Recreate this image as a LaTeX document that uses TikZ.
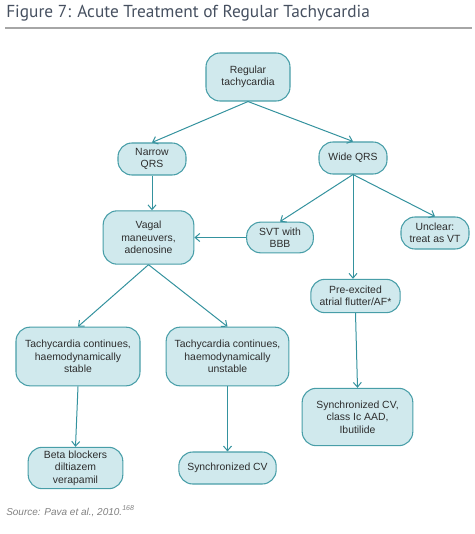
\documentclass[tikz,border=0pt]{standalone}
\usepackage{fontspec}
\setmainfont{Liberation Sans}
\newfontfamily\titlefont{PT Sans}
\usetikzlibrary{arrows.meta}
\definecolor{boxfill}{RGB}{208,233,237}
\definecolor{boxline}{RGB}{72,158,168}
\definecolor{arrline}{RGB}{52,146,158}
\definecolor{titlegray}{RGB}{70,80,96}
\definecolor{txtgray}{RGB}{45,45,45}
\tikzset{
  box/.style={draw=boxline, fill=boxfill, line width=0.8pt, rounded corners=10.5pt,
    align=center, font=\fontsize{7.8}{9.4}\selectfont, text=txtgray, inner sep=1pt},
  arr/.style={draw=arrline, line width=0.75pt, -{Straight Barb[length=3.5pt,width=6pt]}}
}
\begin{document}
\begin{tikzpicture}[x=0.75pt,y=-0.75pt]
    \useasboundingbox (0,0) rectangle (474,534);
    % heading
    \node[anchor=base west, inner sep=0, text=titlegray, font=\titlefont\fontsize{13}{15}\selectfont] (title) at (6,18) {Figure 7: Acute Treatment of Regular Tachycardia};
    \draw[gray!70, line width=0.8pt] (5,28) -- (472,28);
    % boxes
    \node[box, minimum width=63pt, minimum height=36pt] (reg) at (248,77) {Regular\\tachycardia};
    \node[box, minimum width=51pt, minimum height=24pt] (narrow) at (152,159) {Narrow\\QRS};
    \node[box, minimum width=51pt, minimum height=24pt] (wide) at (353,158) {Wide QRS};
    \node[box, minimum width=68pt, minimum height=40pt] (vagal) at (148.5,237.5) {Vagal\\maneuvers,\\adenosine};
    \node[box, minimum width=50pt, minimum height=23pt] (svt) at (280,237.5) {SVT with\\BBB};
    \node[box, minimum width=51pt, minimum height=24pt] (unclear) at (435,233) {Unclear:\\treat as VT};
    \node[box, minimum width=67pt, minimum height=25pt] (pre) at (355.5,296) {Pre-excited\\atrial flutter/AF*};
    \node[box, minimum width=93pt, minimum height=44pt] (stable) at (78,356.5) {Tachycardia continues,\\haemodynamically\\stable};
    \node[box, minimum width=92pt, minimum height=44pt] (unstable) at (227.5,356.5) {Tachycardia continues,\\haemodynamically\\unstable};
    \node[box, minimum width=83pt, minimum height=43pt] (cvaad) at (357.5,417) {Synchronized CV,\\class Ic AAD,\\Ibutilide};
    \node[box, minimum width=71pt, minimum height=31pt] (beta) at (75.5,468) {Beta blockers\\diltiazem\\verapamil};
    \node[box, minimum width=73pt, minimum height=24pt] (synccv) at (227.5,468) {Synchronized CV};
    % connectors
    \draw[arr] (reg.south) -- (narrow.north);
    \draw[arr] (reg.south) -- (wide.north);
    \draw[arr] (narrow.south) -- (narrow.south |- vagal.north);
    \draw[arr] (wide.south) -- (svt.north);
    \draw[arr] (wide.south) -- (unclear.north);
    \draw[arr] (wide.south) -- (wide.south |- pre.north);
    \draw[arr] (svt.west) -- (vagal.east);
    \draw[arr] (vagal.south) -- (stable.north);
    \draw[arr] (vagal.south) -- (unstable.north);
    \draw[arr] (stable.south) -- (beta.north);
    \draw[arr] (unstable.south) -- (synccv.north);
    \draw[arr] (pre.south) -- (cvaad.north);
    % source line
    \node[anchor=base west, inner sep=0, text=gray, font=\itshape\fontsize{7.5}{9}\selectfont] (src) at (6,515) {Source: Pava et al., 2010.\textsuperscript{168}};
\end{tikzpicture}
\end{document}
